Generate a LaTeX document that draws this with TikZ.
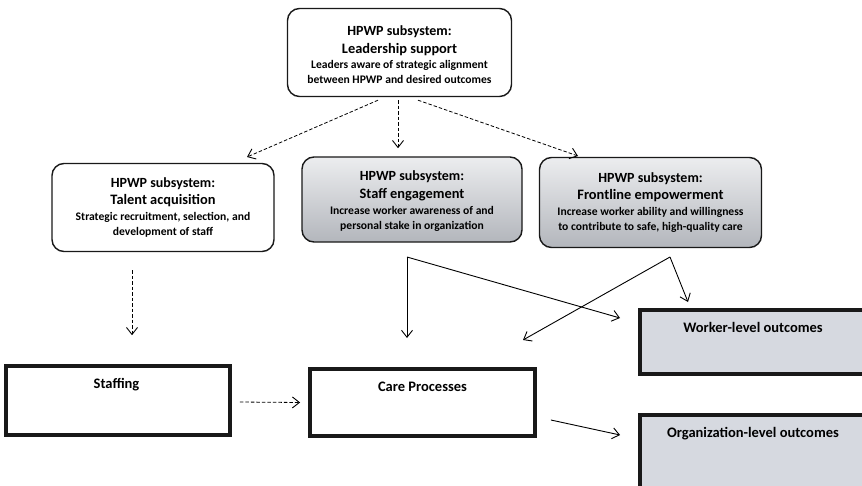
\documentclass[tikz,border=0pt]{standalone}
\usepackage{fontspec}
\setmainfont{Carlito}
\usetikzlibrary{arrows.meta}
\definecolor{outc}{HTML}{D6D9E0}
\definecolor{gtop}{HTML}{ECEDEF}
\definecolor{gbot}{HTML}{B3B6BC}
\newcommand{\hpwpA}{\fontsize{14pt}{15pt}\selectfont}
\newcommand{\hpwpB}{\fontsize{14.4pt}{15pt}\selectfont}
\newcommand{\hpwpC}{\fontsize{11.6pt}{15pt}\selectfont}
\begin{document}
\begin{tikzpicture}[x=1pt,y=-1pt,
  subbox/.style={draw=black!90,line width=1.4pt,rounded corners=12pt,align=center,inner sep=0pt,
     font=\fontsize{11.6pt}{15pt}\selectfont\bfseries},
  grayfill/.style={subbox,top color=gtop,bottom color=gbot},
  outbox/.style={draw=black!90,line width=3.8pt,inner sep=0pt},
  outfill/.style={outbox,fill=outc},
  arw/.style={-{Straight Barb[length=7pt,width=11pt,line width=0.9pt]}},
  dsharr/.style={arw,dash pattern=on 3.5pt off 2pt,line width=0.8pt},
  solarr/.style={arw,line width=0.9pt},
  lbl/.style={font=\fontsize{14.5pt}{16pt}\selectfont\bfseries,below=11pt}
]
\useasboundingbox (0,0) rectangle (862,485);

\node[subbox,minimum width=224pt,minimum height=88pt] (lead) at (399.5,52.5)
  {\rule{0pt}{15pt}{\hpwpA HPWP subsystem:}\\[3pt]{\hpwpB Leadership support}\\{\hpwpC Leaders aware of strategic alignment}\\{\hpwpC between HPWP and desired outcomes}};
\node[subbox,minimum width=222pt,minimum height=88pt] (tal) at (163,207.5)
  {{\hpwpA HPWP subsystem:}\\[2pt]{\hpwpB Talent acquisition}\\[1pt]{\hpwpC Strategic recruitment, selection, and}\\{\hpwpC development of staff}};
\node[grayfill,minimum width=220pt,minimum height=85pt] (eng) at (412,199.5)
  {\rule{0pt}{13pt}{\hpwpA HPWP subsystem:}\\[3pt]{\hpwpB Staff engagement}\\[1pt]{\hpwpC Increase worker awareness of and}\\{\hpwpC personal stake in organization}};
\node[grayfill,minimum width=222pt,minimum height=90pt] (fro) at (650.5,202.5)
  {{\hpwpA HPWP subsystem:}\\[2pt]{\hpwpB Frontline empowerment}\\[1pt]{\hpwpC Increase worker ability and willingness}\\{\hpwpC to contribute to safe, high-quality care}};

\node[outbox,minimum width=224pt,minimum height=69pt,label={[lbl,xshift=-1.5pt]north:Staffing}] (staff) at (118,400.5) {};
\node[outbox,minimum width=225pt,minimum height=67pt,label={[lbl]north:Care Processes}] (care) at (422.5,402.5) {};
\node[outfill,minimum width=226pt,minimum height=64pt,label={[lbl]north:Worker-level outcomes}] (work) at (753,342) {};
\node[outfill,minimum width=226pt,minimum height=73pt,label={[lbl]north:Organization-level outcomes}] (org) at (753,451.5) {};

\coordinate (e1) at (407,257);
\coordinate (f1) at (670,257);
\coordinate (lt) at (247,157);
\coordinate (rt) at (578,156);
\coordinate (ce) at (407,338);
\coordinate (cf) at (523,340);
\coordinate (we) at (620,318);
\coordinate (wf) at (688,302);

\draw[dsharr] ([xshift=-21.5pt,yshift=-3pt]lead.south) -- (lt);
\draw[dsharr] ([xshift=-1.5pt,yshift=-3pt]lead.south) -- ([xshift=-1.5pt,yshift=-51pt]lead.south);
\draw[dsharr] ([xshift=18.5pt,yshift=-3pt]lead.south) -- (rt);
\draw[dsharr] ([xshift=-31pt,yshift=-18pt]tal.south) -- ([xshift=-31pt,yshift=-83pt]tal.south);
\draw[dsharr] ([xshift=8pt,yshift=-1.5pt]staff.east) -- ([xshift=-8pt]care.west);
\draw[solarr] ([xshift=14pt,yshift=-17.5pt]care.east) -- ([xshift=-18pt,yshift=16.5pt]org.west);

\draw[solarr] (e1) -- (ce);
\draw[solarr] (e1) -- (we);
\draw[solarr] (f1) -- (cf);
\draw[solarr] (f1) -- (wf);
\end{tikzpicture}
\end{document}
